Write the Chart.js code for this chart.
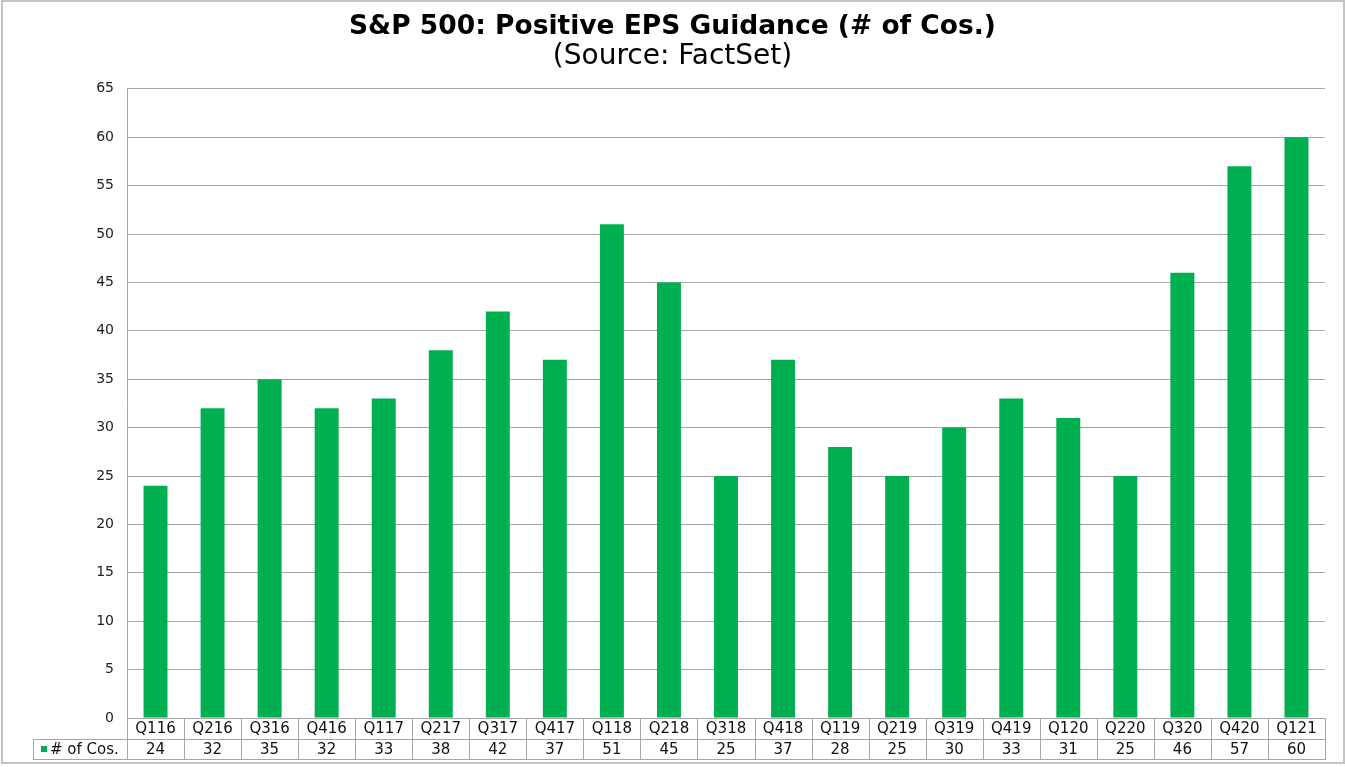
<!DOCTYPE html>
<html>
<head>
<meta charset="utf-8">
<title>S&amp;P 500: Positive EPS Guidance</title>
<script src="https://cdn.jsdelivr.net/npm/chart.js@4"></script>
<style>
    html, body { margin: 0; padding: 0; background: #fff; }
    #wrap { width: 1345px; height: 767px; position: relative; }
</style>
</head>
<body>
<div id="wrap"><canvas id="epsChart"></canvas></div>
<script>
// Chart data
const quarters = ['Q116', 'Q216', 'Q316', 'Q416', 'Q117', 'Q217', 'Q317', 'Q417', 'Q118', 'Q218', 'Q318',
    'Q418', 'Q119', 'Q219', 'Q319', 'Q419', 'Q120', 'Q220', 'Q320', 'Q420', 'Q121'];
const positiveGuidance = [24, 32, 35, 32, 33, 38, 42, 37, 51, 45, 25, 37, 28, 25, 30, 33, 31, 25, 46, 57, 60];
const seriesName = '# of Cos.';
const yTicks = [0, 5, 10, 15, 20, 25, 30, 35, 40, 45, 50, 55, 60, 65];

const GREEN = '#00b050';
const GRID = '#a6a6a6';
const FONT = '"DejaVu Sans", Arial, sans-serif';

// Draws the data table under the plot (category row + values row)
const dataTablePlugin = {
    id: 'dataTable',
    afterDraw(chart) {
        const { ctx, chartArea, scales } = chart;
        const x = scales.x;
        const top = chartArea.bottom;
        const rowH = 20.5;
        const mid = top + rowH;
        const bottom = top + rowH * 2;
        const leftCell = 33;
        const half = (x.getPixelForValue(1) - x.getPixelForValue(0)) / 2;

        ctx.save();
        ctx.strokeStyle = GRID;
        ctx.lineWidth = 1;
        ctx.beginPath();
        // horizontal lines
        ctx.moveTo(leftCell, Math.round(mid) + 0.5);
        ctx.lineTo(chartArea.right, Math.round(mid) + 0.5);
        ctx.moveTo(leftCell, Math.round(bottom) + 0.5);
        ctx.lineTo(chartArea.right, Math.round(bottom) + 0.5);
        // left edge of legend cell
        ctx.moveTo(leftCell + 0.5, Math.round(mid));
        ctx.lineTo(leftCell + 0.5, Math.round(bottom) + 1);
        // column separators
        for (let i = 0; i <= quarters.length; i++) {
            const px = Math.round(x.getPixelForValue(i) - half) + 0.5;
            ctx.moveTo(px, top);
            ctx.lineTo(px, Math.round(bottom) + 1);
        }
        ctx.stroke();

        ctx.fillStyle = '#111';
        ctx.font = '15px ' + FONT;
        ctx.textAlign = 'center';
        ctx.textBaseline = 'middle';
        quarters.forEach((q, i) => {
            const cx = x.getPixelForValue(i);
            ctx.fillText(q, cx, top + rowH / 2 + 1);
            ctx.fillText(String(positiveGuidance[i]), cx, mid + rowH / 2 + 1);
        });

        // legend key + series name
        ctx.fillStyle = GREEN;
        ctx.fillRect(41, Math.round(mid + 7), 6, 6);
        ctx.fillStyle = '#111';
        ctx.textAlign = 'left';
        ctx.fillText(seriesName, 50, mid + rowH / 2 + 1);
        ctx.restore();
    }
};

// Light frame around the whole picture
const framePlugin = {
    id: 'frame',
    beforeDraw(chart) {
        const { ctx, width } = chart;
        ctx.save();
        ctx.fillStyle = '#fff';
        ctx.fillRect(0, 0, width, chart.height);
        ctx.strokeStyle = '#c4c4c4';
        ctx.lineWidth = 2;
        ctx.strokeRect(2, 1, width - 3, 762);
        ctx.restore();
    }
};

new Chart(document.getElementById('epsChart'), {
    type: 'bar',
    data: {
        labels: quarters,
        datasets: [{
            label: seriesName,
            data: positiveGuidance,
            backgroundColor: GREEN,
            borderWidth: 0,
            categoryPercentage: 1.0,
            barPercentage: 0.42
        }]
    },
    options: {
        responsive: true,
        maintainAspectRatio: false,
        animation: false,
        layout: {
            padding: { top: 0, right: 0, left: 0, bottom: 49 }
        },
        plugins: {
            legend: { display: false },
            tooltip: { enabled: false },
            title: {
                display: true,
                text: 'S&P 500: Positive EPS Guidance (# of Cos.)',
                color: '#000',
                font: { family: FONT, size: 26.5, weight: 'bold', lineHeight: 1.2 },
                padding: { top: 11, bottom: 0 }
            },
            subtitle: {
                display: true,
                text: '(Source: FactSet)',
                color: '#000',
                font: { family: FONT, size: 28, lineHeight: 1.0 },
                padding: { top: 0, bottom: 18 }
            }
        },
        scales: {
            x: {
                display: false,
                offset: true,
                grid: { display: false }
            },
            y: {
                min: 0,
                max: 65,
                afterFit(scale) { scale.width = 127; },
                afterBuildTicks(scale) { scale.ticks = yTicks.map(v => ({ value: v })); },
                border: { display: true, color: GRID, width: 1 },
                grid: { color: GRID, lineWidth: 1, drawTicks: false },
                ticks: {
                    color: '#222',
                    padding: 13,
                    font: { family: FONT, size: 14 }
                }
            },
            // empty right margin so the title centres on the full picture
            yRight: {
                position: 'right',
                afterFit(scale) { scale.width = 20; },
                border: { display: false },
                grid: { display: false, drawTicks: false },
                ticks: { display: false }
            }
        }
    },
    plugins: [framePlugin, dataTablePlugin]
});
</script>
</body>
</html>
